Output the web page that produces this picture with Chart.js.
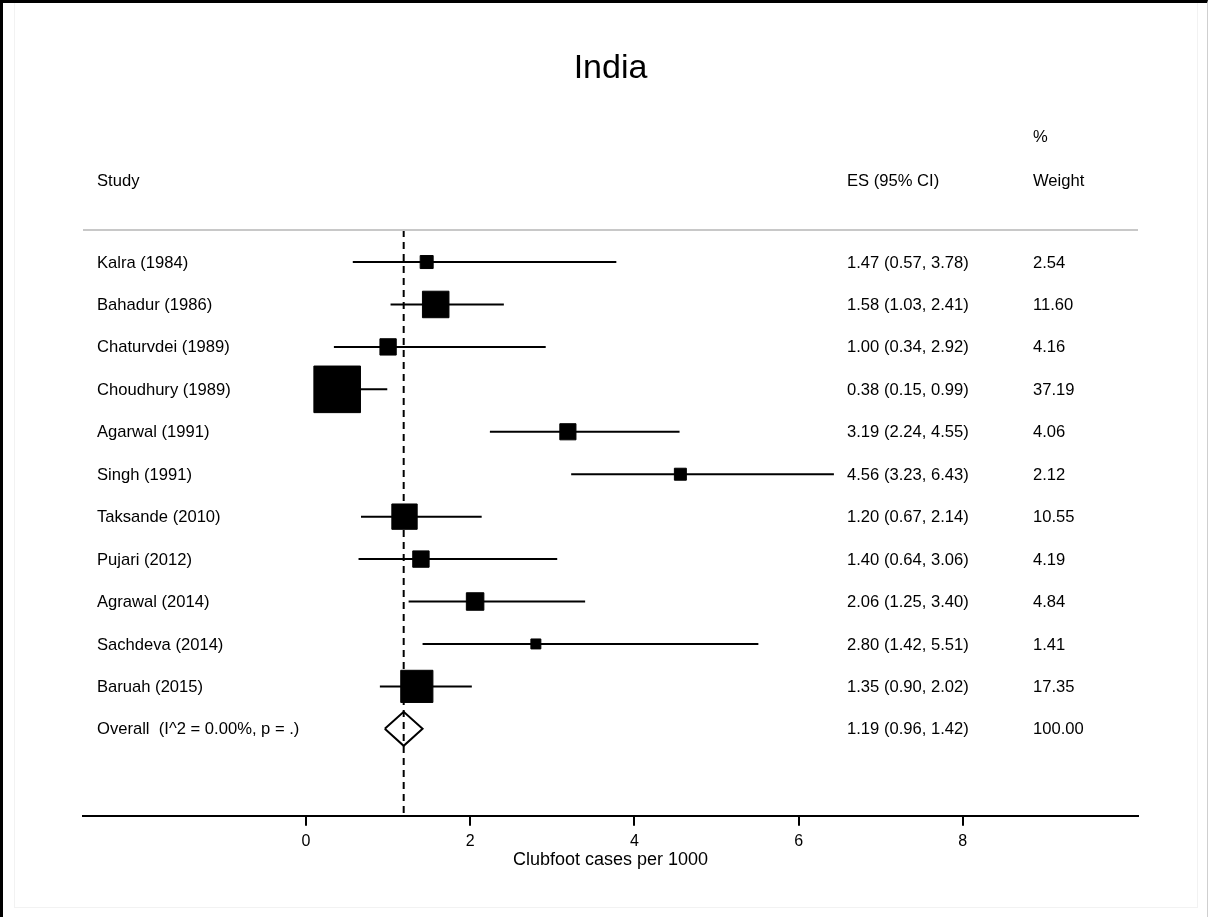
<!DOCTYPE html>
<html>
<head>
<meta charset="utf-8">
<script src="https://cdn.jsdelivr.net/npm/chart.js@4.4.1/dist/chart.umd.min.js"></script>
<style>
    html, body { margin: 0; padding: 0; background: #fff; }
    #wrap { position: relative; width: 1208px; height: 917px; }
    #frame {
        position: absolute; left: 0; top: 0; width: 1208px; height: 917px;
        border-top: 3px solid #000; border-left: 3px solid #000; border-right: 1px solid #cfcfcf;
        box-sizing: border-box; pointer-events: none;
    }
    #inner {
        position: absolute; left: 14px; top: 3px; width: 1184px; height: 905px;
        border: 1px solid #f2f2f2; border-top: none; box-sizing: border-box; pointer-events: none;
    }
</style>
</head>
<body>
<div id="wrap">
    <canvas id="forestChart" width="1208" height="917"></canvas>
    <div id="frame"></div>
    <div id="inner"></div>
</div>
<script>
const estudios = ['Kalra (1984)', 'Bahadur (1986)', 'Chaturvdei (1989)', 'Choudhury (1989)', 'Agarwal (1991)',
    'Singh (1991)', 'Taksande (2010)', 'Pujari (2012)', 'Agrawal (2014)', 'Sachdeva (2014)', 'Baruah (2015)'];
const efecto = [1.47, 1.58, 1.00, 0.38, 3.19, 4.56, 1.20, 1.40, 2.06, 2.80, 1.35];
const limInf = [0.57, 1.03, 0.34, 0.15, 2.24, 3.23, 0.67, 0.64, 1.25, 1.42, 0.90];
const limSup = [3.78, 2.41, 2.92, 0.99, 4.55, 6.43, 2.14, 3.06, 3.40, 5.51, 2.02];
const pesos = [2.54, 11.60, 4.16, 37.19, 4.06, 2.12, 10.55, 4.19, 4.84, 1.41, 17.35];

const globalEtiqueta = 'Overall  (I^2 = 0.00%, p = .)';
const globalEfecto = 1.19;
const globalInf = 0.96;
const globalSup = 1.42;
const globalPeso = 100.00;

const xTicks = [0, 2, 4, 6, 8];
const xMin = -2.716;
const xMax = 10.134;
const yMin = 0.245;
const yMax = 14.05;

const FUENTE = '"Liberation Sans", Arial, sans-serif';
Chart.defaults.font.family = FUENTE;
Chart.defaults.color = '#000';

const filaGlobal = estudios.length + 1;

function ladoCaja(w) {
    // area of the box follows the study weight
    return (7.46 * Math.sqrt(w) + 1.1) / Math.SQRT2;
}

const datasets = [];

estudios.forEach((nombre, i) => {
    datasets.push({
        type: 'scatter',
        label: nombre,
        data: [{ x: limInf[i], y: i + 1 }, { x: limSup[i], y: i + 1 }],
        showLine: true,
        borderColor: '#000',
        borderWidth: 2,
        pointRadius: 0,
        fill: false
    });
});

datasets.push({
    type: 'scatter',
    label: 'ES',
    data: efecto.map((v, i) => ({ x: v, y: i + 1 })),
    pointStyle: 'rect',
    pointRadius: pesos.map(ladoCaja),
    backgroundColor: '#000',
    borderColor: '#000',
    borderWidth: 1
});

datasets.push({
    type: 'scatter',
    label: 'Overall',
    data: [
        { x: globalInf, y: filaGlobal },
        { x: globalEfecto, y: filaGlobal - 0.4 },
        { x: globalSup, y: filaGlobal },
        { x: globalEfecto, y: filaGlobal + 0.4 },
        { x: globalInf, y: filaGlobal }
    ],
    showLine: true,
    borderColor: '#000',
    borderWidth: 2,
    pointRadius: 0,
    fill: false
});

datasets.push({
    type: 'scatter',
    label: 'ref',
    data: [{ x: globalEfecto, y: yMin }, { x: globalEfecto, y: yMax }],
    showLine: true,
    borderColor: '#000',
    borderWidth: 2,
    borderDash: [7, 5],
    pointRadius: 0,
    fill: false
});

const textosPlugin = {
    id: 'textosForest',
    afterDraw(chart) {
        const ctx = chart.ctx;
        const area = chart.chartArea;
        const ys = chart.scales.y;
        ctx.save();

        ctx.strokeStyle = '#c8c8c8';
        ctx.lineWidth = 2;
        ctx.beginPath();
        ctx.moveTo(area.left, area.top);
        ctx.lineTo(area.right, area.top);
        ctx.stroke();

        ctx.fillStyle = '#000';
        ctx.font = '16.6px ' + FUENTE;
        ctx.textAlign = 'left';
        ctx.textBaseline = 'middle';

        const xNombre = area.left + 14;
        const xES = area.left + 764;
        const xPeso = area.left + 950;

        ctx.fillText('%', xPeso, ys.getPixelForValue(-1.94));
        const yCab = ys.getPixelForValue(-0.9);
        ctx.fillText('Study', xNombre, yCab);
        ctx.fillText('ES (95% CI)', xES, yCab);
        ctx.fillText('Weight', xPeso, yCab);

        estudios.forEach((nombre, i) => {
            const y = ys.getPixelForValue(i + 1) + 1;
            ctx.fillText(nombre, xNombre, y);
            ctx.fillText(`${efecto[i].toFixed(2)} (${limInf[i].toFixed(2)}, ${limSup[i].toFixed(2)})`, xES, y);
            ctx.fillText(pesos[i].toFixed(2), xPeso, y);
        });

        const yG = ys.getPixelForValue(filaGlobal) + 1;
        ctx.fillText(globalEtiqueta, xNombre, yG);
        ctx.fillText(`${globalEfecto.toFixed(2)} (${globalInf.toFixed(2)}, ${globalSup.toFixed(2)})`, xES, yG);
        ctx.fillText(globalPeso.toFixed(2), xPeso, yG);

        ctx.restore();
    }
};

const ctx = document.getElementById('forestChart').getContext('2d');
const forestChart = new Chart(ctx, {
    data: { datasets },
    options: {
        responsive: false,
        devicePixelRatio: 1,
        animation: false,
        layout: { padding: { left: 83, right: 70, top: 0, bottom: 46.4 } },
        plugins: {
            legend: { display: false },
            tooltip: { enabled: false },
            title: {
                display: true,
                text: 'India',
                color: '#000',
                font: { size: 34, weight: 'normal', family: FUENTE },
                padding: { top: 48, bottom: 141.2 }
            }
        },
        scales: {
            x: {
                type: 'linear',
                position: 'bottom',
                min: xMin,
                max: xMax,
                afterBuildTicks: scale => { scale.ticks = xTicks.map(v => ({ value: v })); },
                ticks: { font: { size: 16 }, color: '#000', padding: 6, maxRotation: 0, autoSkip: false },
                grid: { display: true, drawOnChartArea: false, drawTicks: true, tickLength: 10, color: '#000', lineWidth: 2 },
                border: { display: true, color: '#000', width: 2 },
                title: {
                    display: true,
                    text: 'Clubfoot cases per 1000',
                    color: '#000',
                    font: { size: 18 },
                    padding: { top: -8, bottom: 0 }
                }
            },
            y: {
                type: 'linear',
                reverse: true,
                min: yMin,
                max: yMax,
                display: false
            }
        }
    },
    plugins: [textosPlugin]
});
</script>
</body>
</html>
